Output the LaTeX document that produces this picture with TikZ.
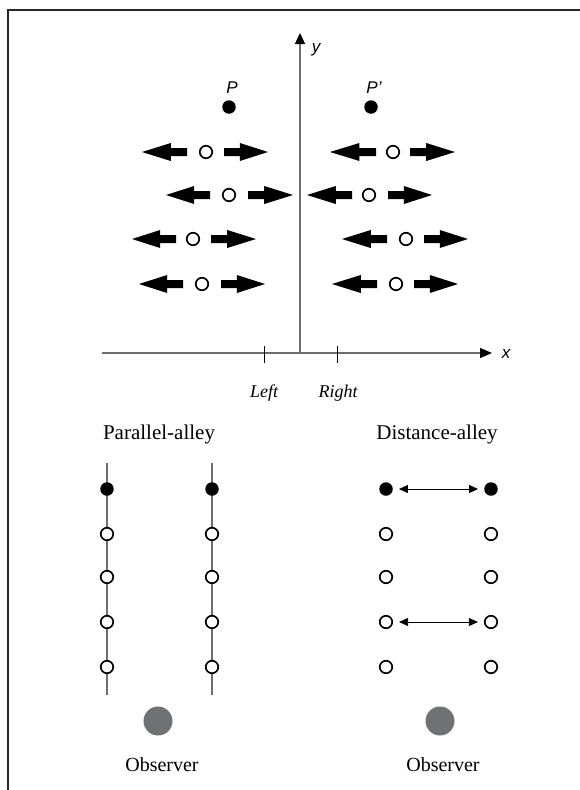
\documentclass[tikz,border=0pt]{standalone}
\usepackage{fontspec}
\setmainfont{Liberation Serif}
\newfontfamily\labsans{Liberation Sans}
\usetikzlibrary{arrows.meta}
\definecolor{axisgray}{RGB}{110,110,110}
\definecolor{obsgray}{RGB}{112,113,116}
\tikzset{
  opendot/.style={circle,draw=black,fill=white,line width=1.7pt,minimum size=12.5pt,inner sep=0pt},
  fulldot/.style={circle,fill=black,minimum size=13.5pt,inner sep=0pt},
  obsdot/.style={circle,fill=obsgray,minimum size=29pt,inner sep=0pt},
  sanslab/.style={inner sep=0pt,font=\labsans\itshape\fontsize{17}{17}\selectfont},
  seriflab/.style={inner sep=0pt,font=\itshape\fontsize{18}{18}\selectfont},
  titlelab/.style={inner sep=0pt,font=\fontsize{21}{21}\selectfont},
  obslab/.style={inner sep=0pt,font=\fontsize{20}{20}\selectfont},
  axisline/.style={draw=axisgray,line width=1.3pt},
  alleyline/.style={draw=axisgray,line width=1.2pt},
  distarrow/.style={line width=0.8pt,{Triangle[length=9pt,width=8pt]}-{Triangle[length=9pt,width=8pt]},shorten <=6pt,shorten >=6pt}
}
\newcommand\blockarr[3]{% tip x, tail x, y
  \pgfmathsetmacro\hb{#1+0.64*(#2-#1)}%
  \fill[black] (#1,#3) -- (\hb,#3-9) -- (\hb,#3-4) -- (#2,#3-4) -- (#2,#3+4) -- (\hb,#3+4) -- (\hb,#3+9) -- cycle;}
\begin{document}
\begin{tikzpicture}[x=1pt,y=-1pt]
\useasboundingbox (0,0) rectangle (580,790);
% frame
\draw[line width=1.3pt,black!85] (8,790) -- (8,10) -- (580,10);
% axes
\coordinate (yb) at (300,353);
\coordinate (yt) at (300,33);
\coordinate (xl) at (102,353);
\coordinate (xr) at (492,353);
\draw[axisline,-{Triangle[length=11pt,width=10pt,black]}] (yb) -- (yt);
\draw[axisline,-{Triangle[length=12pt,width=10pt,black]}] (xl) -- (xr);
\node[sanslab] (ylab) at (316,50) {y};
\node[sanslab] (xlab) at (506,354) {x};
\draw[line width=0.8pt] (264,346) -- (264,363);
\draw[line width=0.8pt] (337,346) -- (337,363);
\node[seriflab] (left) at (264,393) {Left};
\node[seriflab] (right) at (338,393) {Right};
% P and P'
\node[sanslab] (Plab) at (232,88) {P};
\node[sanslab] (Pplab) at (374,88) {P’};
\node[fulldot] (P) at (229,107) {};
\node[fulldot] (Pp) at (371,107) {};
% rows
\node[opendot] (a1) at (206,152) {}; \blockarr{142}{187}{152} \blockarr{268}{224}{152}
\node[opendot] (b1) at (393,152) {}; \blockarr{330}{376}{152} \blockarr{455}{410}{152}
\node[opendot] (a2) at (229,195) {}; \blockarr{166}{210}{195} \blockarr{293}{248}{195}
\node[opendot] (b2) at (369,195) {}; \blockarr{307}{352}{195} \blockarr{432}{388}{195}
\node[opendot] (a3) at (193,239) {}; \blockarr{132}{176}{239} \blockarr{256}{211}{239}
\node[opendot] (b3) at (406,239) {}; \blockarr{342}{387}{239} \blockarr{468}{424}{239}
\node[opendot] (a4) at (202,284) {}; \blockarr{139}{183}{284} \blockarr{265}{221}{284}
\node[opendot] (b4) at (396,284) {}; \blockarr{332}{377}{284} \blockarr{458}{414}{284}
% Parallel-alley
\node[titlelab] (ptitle) at (159,434) {Parallel-alley};
\coordinate (l1t) at (107,463); \coordinate (l1b) at (107,695);
\coordinate (l2t) at (212,463); \coordinate (l2b) at (212,695);
\draw[alleyline] (l1t) -- (l1b);
\draw[alleyline] (l2t) -- (l2b);
\node[fulldot] (pa1) at (107,489) {};
\node[fulldot] (pb1) at (212,489) {};
\foreach \yy/\i in {534/2,577/3,622/4,667/5}{
  \node[opendot] (pa\i) at (107,\yy) {};
  \node[opendot] (pb\i) at (212,\yy) {};
}
\node[obsdot] (obs1) at (158,721) {};
\node[obslab] (obs1lab) at (162,765) {Observer};
% Distance-alley
\node[titlelab] (dtitle) at (437,434) {Distance-alley};
\node[fulldot] (da1) at (386,489) {};
\node[fulldot] (db1) at (491,489) {};
\foreach \yy/\i in {534/2,577/3,622/4,667/5}{
  \node[opendot] (da\i) at (386,\yy) {};
  \node[opendot] (db\i) at (491,\yy) {};
}
\draw[distarrow] (da1) -- (db1);
\draw[distarrow] (da4) -- (db4);
\node[obsdot] (obs2) at (440,721) {};
\node[obslab] (obs2lab) at (443,765) {Observer};
\end{tikzpicture}
\end{document}
